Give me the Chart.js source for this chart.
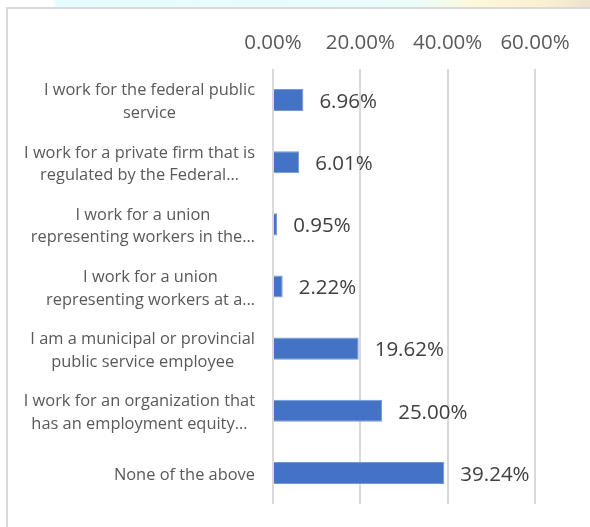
<!DOCTYPE html>
<html>
<head>
<meta charset="utf-8">
<script src="https://cdn.jsdelivr.net/npm/chart.js@4/dist/chart.umd.min.js"></script>
<style>
  html, body { margin: 0; padding: 0; background: #ffffff; }
  #wrap { width: 590px; height: 527px; }
</style>
</head>
<body>
<div id="wrap"><canvas id="chart" width="590" height="527"></canvas></div>
<script>
// Survey answers (wrapped as shown on the axis)
const categories = [
  ["I work for the federal public", "service"],
  ["I work for a private firm that is", "regulated by the Federal\u2026"],
  ["I work for a union", "representing workers in the\u2026"],
  ["I work for a union", "representing workers at a\u2026"],
  ["I am a municipal or provincial", "public service employee"],
  ["I work for an organization that", "has an employment equity\u2026"],
  ["None of the above"]
];

// Share of respondents, in percent
const shares = [6.96, 6.01, 0.95, 2.22, 19.62, 25.00, 39.24];

// Value axis ticks
const axisTicks = [0, 20, 40, 60];

const TEXT_FONT = "'Open Sans', 'Noto Sans', sans-serif";
const fmtPct = v => v.toFixed(2) + '%';

// Page frame: light haze strip along the top plus grey frame lines
const framePlugin = {
  id: 'frame',
  beforeDraw(chart) {
    const ctx = chart.ctx;
    const w = chart.width, h = chart.height;
    ctx.save();
    ctx.fillStyle = '#ffffff';
    ctx.fillRect(0, 0, w, h);
    const g = ctx.createLinearGradient(0, 0, w, 0);
    g.addColorStop(0.0, '#ffffff');
    g.addColorStop(0.09, '#ffffff');
    g.addColorStop(0.095, '#e6fbfd');
    g.addColorStop(0.70, '#e9fbfb');
    g.addColorStop(0.80, '#fdf8dc');
    g.addColorStop(0.92, '#fbf0d2');
    g.addColorStop(1.0, '#efe2cf');
    ctx.fillStyle = g;
    ctx.fillRect(0, 0, w, 7);
    ctx.strokeStyle = '#d9d9d9';
    ctx.lineWidth = 2;
    ctx.beginPath();
    ctx.moveTo(7, h);
    ctx.lineTo(7, 8);
    ctx.lineTo(w, 8);
    ctx.stroke();
    ctx.restore();
  }
};

// Category labels: each block right-aligned to the axis, lines centred within the block
const categoryLabelPlugin = {
  id: 'categoryLabels',
  afterDraw(chart) {
    const ctx = chart.ctx;
    const yScale = chart.scales.y;
    const rightEdge = chart.chartArea.left - 18;
    const lineH = 22.7;
    ctx.save();
    ctx.font = '16.4px ' + TEXT_FONT;
    ctx.fillStyle = '#595959';
    ctx.textAlign = 'center';
    ctx.textBaseline = 'middle';
    categories.forEach((lines, i) => {
      const cy = yScale.getPixelForValue(i) + 2;
      const blockW = Math.max(...lines.map(l => ctx.measureText(l).width));
      const cx = rightEdge - blockW / 2;
      const top = cy - (lines.length - 1) * lineH / 2;
      lines.forEach((l, k) => ctx.fillText(l, cx, top + k * lineH));
    });
    ctx.restore();
  }
};

// Value labels placed just past the end of each bar
const valueLabelPlugin = {
  id: 'valueLabels',
  afterDatasetsDraw(chart) {
    const ctx = chart.ctx;
    const meta = chart.getDatasetMeta(0);
    ctx.save();
    ctx.font = '20.5px ' + TEXT_FONT;
    ctx.fillStyle = '#404040';
    ctx.textAlign = 'left';
    ctx.textBaseline = 'middle';
    meta.data.forEach((bar, i) => {
      ctx.fillText(fmtPct(shares[i]), bar.x + 16, bar.y + 2);
    });
    ctx.restore();
  }
};

new Chart(document.getElementById('chart'), {
  type: 'bar',
  data: {
    labels: categories,
    datasets: [{
      data: shares,
      backgroundColor: '#4472c4',
      borderColor: '#7396d6',
      borderWidth: 1,
      categoryPercentage: 1.0,
      barPercentage: 0.355
    }]
  },
  options: {
    indexAxis: 'y',
    responsive: false,
    devicePixelRatio: 1,
    animation: false,
    layout: { padding: { left: 0, right: 55, top: 0, bottom: 23 } },
    plugins: {
      legend: { display: false },
      tooltip: { enabled: false }
    },
    scales: {
      x: {
        position: 'top',
        min: axisTicks[0],
        max: axisTicks[axisTicks.length - 1],
        afterBuildTicks(scale) {
          scale.ticks = axisTicks.map(v => ({ value: v }));
        },
        afterFit(scale) { scale.height = 69; },
        grid: {
          color: '#d9d9d9',
          lineWidth: 2,
          drawTicks: false
        },
        border: { display: false },
        ticks: {
          padding: 14,
          color: '#595959',
          font: { family: TEXT_FONT, size: 20.5 },
          maxRotation: 0,
          callback: v => fmtPct(v)
        }
      },
      y: {
        afterFit(scale) { scale.width = 273; },
        grid: { display: false, drawTicks: false },
        border: { display: false },
        ticks: { display: false }
      }
    }
  },
  plugins: [framePlugin, categoryLabelPlugin, valueLabelPlugin]
});
</script>
</body>
</html>
